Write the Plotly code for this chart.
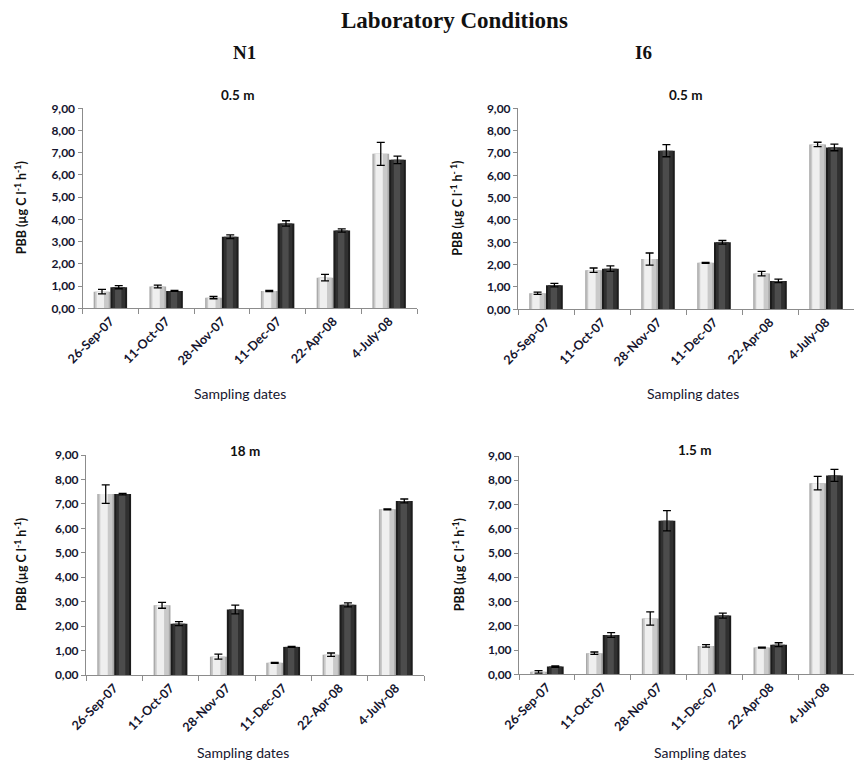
import plotly.graph_objects as go

# Sampling dates (categories shared by all panels)
dates = ["26-Sep-07", "11-Oct-07", "28-Nov-07", "11-Dec-07", "22-Apr-08", "4-July-08"]

# y-axis tick labels (decimal comma)
y_ticks = [0, 1, 2, 3, 4, 5, 6, 7, 8, 9]
y_tick_labels = ["0,00", "1,00", "2,00", "3,00", "4,00", "5,00", "6,00", "7,00", "8,00", "9,00"]

# N1 - 0.5 m
n1_05_light = [0.75, 0.98, 0.48, 0.78, 1.38, 6.95]
n1_05_light_err = [0.10, 0.06, 0.05, 0.03, 0.15, 0.52]
n1_05_dark = [0.95, 0.78, 3.22, 3.82, 3.50, 6.68]
n1_05_dark_err = [0.07, 0.02, 0.08, 0.12, 0.07, 0.17]

# I6 - 0.5 m
i6_05_light = [0.72, 1.75, 2.25, 2.08, 1.60, 7.38]
i6_05_light_err = [0.05, 0.10, 0.27, 0.02, 0.10, 0.10]
i6_05_dark = [1.08, 1.82, 7.10, 3.00, 1.27, 7.25]
i6_05_dark_err = [0.08, 0.12, 0.27, 0.08, 0.08, 0.15]

# N1 - 18 m
n1_18_light = [7.40, 2.85, 0.75, 0.50, 0.83, 6.78]
n1_18_light_err = [0.38, 0.12, 0.10, 0.02, 0.07, 0.02]
n1_18_dark = [7.40, 2.10, 2.68, 1.15, 2.87, 7.12]
n1_18_dark_err = [0.03, 0.08, 0.18, 0.02, 0.08, 0.08]

# I6 - 1.5 m
i6_15_light = [0.10, 0.87, 2.30, 1.17, 1.10, 7.88]
i6_15_light_err = [0.05, 0.05, 0.27, 0.05, 0.02, 0.28]
i6_15_dark = [0.32, 1.62, 6.33, 2.42, 1.22, 8.20]
i6_15_dark_err = [0.03, 0.10, 0.42, 0.10, 0.08, 0.25]

W, H = 854, 771
TXT = "#15152e"
AXC = "#8c8c8c"
FONT = "Lato"

BAR_W = 0.3
# (start fraction, end fraction, colour) of each shading stripe of a bar
LIGHT_LAYERS = [(0.0, 1.0, "#a9a9a9"), (0.08, 0.9, "#c9c9c9"), (0.18, 0.62, "#efefef")]
DARK_LAYERS = [(0.0, 1.0, "#1c1c1c"), (0.12, 0.88, "#303030"), (0.28, 0.66, "#4c4c4c")]


def px_x(p):
    return p / W


def px_y(p):
    return 1 - p / H


panels = [
    dict(light=n1_05_light, le=n1_05_light_err, dark=n1_05_dark, de=n1_05_dark_err,
         ax="", xd=(82.5, 417), yd=(108.3, 308.3), sub="0.5 m", subpos=(238, 95),
         ytitle="PBB (µg C l<sup>-1</sup> h<sup>-1</sup>)", ytx=20, xlab=(240, 393)),
    dict(light=i6_05_light, le=i6_05_light_err, dark=i6_05_dark, de=i6_05_dark_err,
         ax="2", xd=(518, 854), yd=(108.3, 309.3), sub="0.5 m", subpos=(685, 95),
         ytitle="PBB (µg C l<sup>-1</sup> h<sup>- 1</sup>)", ytx=457, xlab=(693, 393)),
    dict(light=n1_18_light, le=n1_18_light_err, dark=n1_18_dark, de=n1_18_dark_err,
         ax="3", xd=(86, 424), yd=(455, 675), sub="18 m", subpos=(245, 451),
         ytitle="PBB (µg C l<sup>-1</sup> h<sup>-1</sup>)", ytx=20, xlab=(243, 752)),
    dict(light=i6_15_light, le=i6_15_light_err, dark=i6_15_dark, de=i6_15_dark_err,
         ax="4", xd=(519, 854), yd=(456, 674.3), sub="1.5 m", subpos=(694, 450),
         ytitle="PBB (µg C l<sup>-1</sup> h<sup>-1</sup>)", ytx=458, xlab=(700, 752)),
]

fig = go.Figure()
annotations = []
layout_axes = {}

for p in panels:
    xa = "x" + p["ax"]
    ya = "y" + p["ax"]
    for vals, errs, base_off, layers in (
        (p["light"], p["le"], -BAR_W, LIGHT_LAYERS),
        (p["dark"], p["de"], 0.0, DARK_LAYERS),
    ):
        for f0, f1, col in layers:
            fig.add_trace(go.Bar(
                x=dates, y=vals, xaxis=xa, yaxis=ya,
                offset=base_off + f0 * BAR_W, width=(f1 - f0) * BAR_W,
                marker=dict(color=col, line=dict(width=0)),
                showlegend=False, hoverinfo="skip",
            ))
        # full-width transparent bar carrying the error bars
        fig.add_trace(go.Bar(
            x=dates, y=vals, xaxis=xa, yaxis=ya,
            offset=base_off, width=BAR_W,
            marker=dict(color="rgba(0,0,0,0)", line=dict(width=0)),
            error_y=dict(type="data", array=errs, visible=True,
                         color="#000000", thickness=1.3, width=4),
            showlegend=False, hoverinfo="skip",
        ))

    xkey = "xaxis" + p["ax"]
    ykey = "yaxis" + p["ax"]
    layout_axes[xkey] = dict(
        domain=[px_x(p["xd"][0]), min(1.0, px_x(p["xd"][1]))],
        anchor=ya, type="category", range=[-0.5, 5.5], automargin=False,
        showline=True, linecolor=AXC, linewidth=1,
        ticks="outside", tickson="boundaries", ticklen=5, tickcolor=AXC,
        tickangle=-45, showgrid=False, zeroline=False,
        tickfont=dict(family=FONT, size=12.5, color=TXT, weight="bold"),
        fixedrange=True,
    )
    layout_axes[ykey] = dict(
        domain=[px_y(p["yd"][1]), px_y(p["yd"][0])],
        anchor=xa, range=[0, 9], automargin=False,
        tickvals=y_ticks, ticktext=y_tick_labels,
        showline=True, linecolor=AXC, linewidth=1,
        ticks="outside", ticklen=4, tickcolor=AXC,
        showgrid=False, zeroline=False,
        tickfont=dict(family=FONT, size=12, color=TXT, weight="bold"),
        fixedrange=True,
    )

    annotations.append(dict(
        text="<b>" + p["sub"] + "</b>", x=px_x(p["subpos"][0]), y=px_y(p["subpos"][1]),
        xref="paper", yref="paper", showarrow=False, xanchor="center", yanchor="middle",
        font=dict(family=FONT, size=13.5, color="#111111"),
    ))
    annotations.append(dict(
        text="<b>" + p["ytitle"] + "</b>", x=px_x(p["ytx"]),
        y=px_y((p["yd"][0] + p["yd"][1]) / 2),
        xref="paper", yref="paper", showarrow=False, textangle=-90,
        xanchor="center", yanchor="middle",
        font=dict(family=FONT, size=12.5, color="#111111"),
    ))
    annotations.append(dict(
        text="Sampling dates", x=px_x(p["xlab"][0]), y=px_y(p["xlab"][1]),
        xref="paper", yref="paper", showarrow=False, xanchor="center", yanchor="middle",
        font=dict(family=FONT, size=14, color=TXT),
    ))

# figure and column headings
annotations.append(dict(
    text="<b>Laboratory Conditions</b>", x=px_x(454), y=px_y(20),
    xref="paper", yref="paper", showarrow=False, xanchor="center", yanchor="middle",
    font=dict(family="Liberation Serif", size=23, color="#111111"),
))
annotations.append(dict(
    text="<b>N1</b>", x=px_x(244), y=px_y(53),
    xref="paper", yref="paper", showarrow=False, xanchor="center", yanchor="middle",
    font=dict(family="Liberation Serif", size=19, color="#111111"),
))
annotations.append(dict(
    text="<b>I6</b>", x=px_x(643), y=px_y(53),
    xref="paper", yref="paper", showarrow=False, xanchor="center", yanchor="middle",
    font=dict(family="Liberation Serif", size=19, color="#111111"),
))

fig.update_layout(
    width=W, height=H,
    margin=dict(l=0, r=0, t=0, b=0, autoexpand=False),
    paper_bgcolor="white", plot_bgcolor="white",
    barmode="overlay", showlegend=False,
    annotations=annotations,
    **layout_axes,
)

fig.write_html("out.html")
